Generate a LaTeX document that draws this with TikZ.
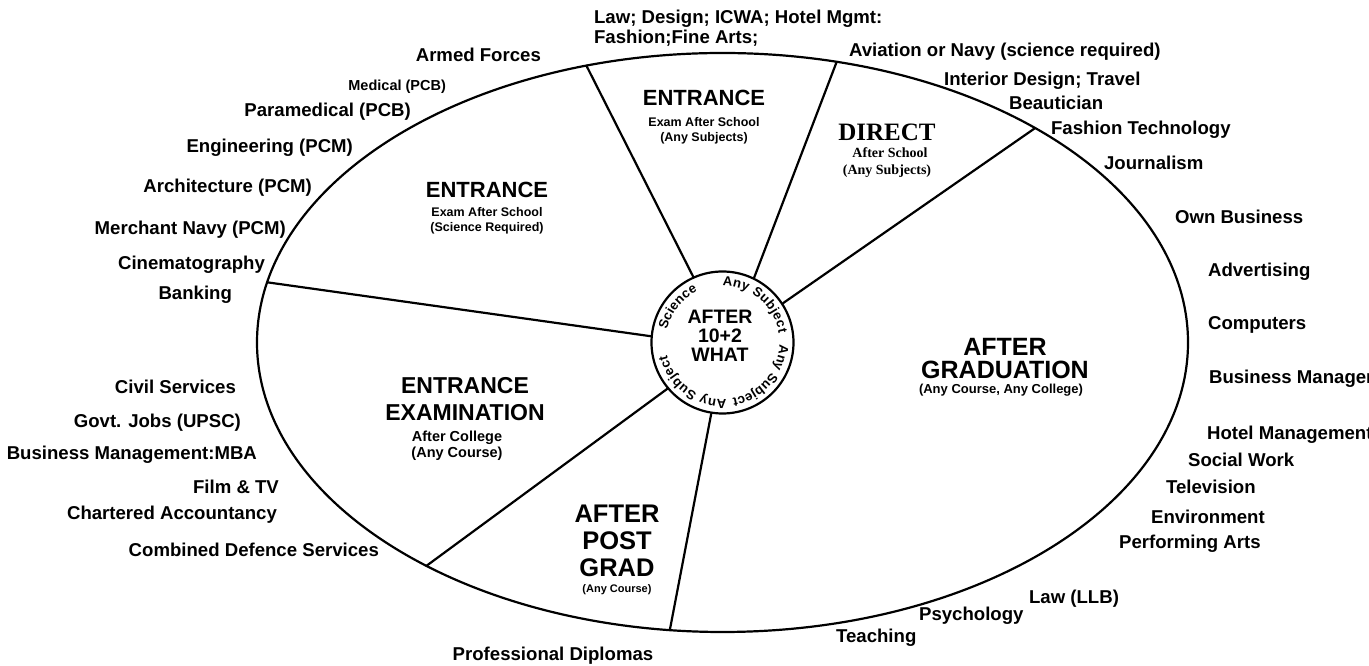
\documentclass[tikz,border=0pt]{standalone}
\usepackage{fontspec}
\setmainfont{Liberation Sans}
\newfontfamily\serifbold{Liberation Serif}
\usetikzlibrary{calc,decorations.text}

\begin{document}
\begin{tikzpicture}[x=1pt,y=1pt,
  line width=2.2pt, line cap=round, line join=round,
  item/.style={font=\bfseries\fontsize{18.6}{18.6}\selectfont, inner sep=0pt, text height=13.3pt, text depth=0pt},
  smallitem/.style={font=\bfseries\fontsize{14.5}{14.5}\selectfont, inner sep=0pt, text height=10.4pt, text depth=0pt},
  title/.style={font=\bfseries\fontsize{22}{22}\selectfont, inner sep=0pt, text height=15.8pt, text depth=0pt},
  bigtitle/.style={font=\bfseries\fontsize{25.5}{25.5}\selectfont, inner sep=0pt, text height=18.3pt, text depth=0pt},
  sub/.style={font=\bfseries\fontsize{12.5}{12.5}\selectfont, inner sep=0pt, text height=9pt, text depth=0pt},
  serifsub/.style={font=\serifbold\bfseries\fontsize{14}{14}\selectfont, inner sep=0pt, text height=9.5pt, text depth=0pt},
  ringtext/.style={decorate, decoration={text along path, text align={fit to path},
      text={|\bfseries\fontsize{13.2}{13.2}\selectfont|#1}}}
]
\useasboundingbox (0,0) rectangle (1369,666);
\clip (0,0) rectangle (1369,666);

% ---- wheel: outer ellipse, hub and spokes ----
\coordinate (c) at (722.5,323.5);
\draw (c) ellipse [x radius=465.5, y radius=289.5];
\node[circle, draw, minimum size=142pt, inner sep=0pt] (hub) at (c) {};

\coordinate (e1) at ($(c)+(168:465.5 and 289.5)$);
\coordinate (e2) at ($(c)+(107:465.5 and 289.5)$);
\coordinate (e3) at ($(c)+(75.8:465.5 and 289.5)$);
\coordinate (e4) at ($(c)+(47.8:465.5 and 289.5)$);
\coordinate (e5) at ($(c)+(230.5:465.5 and 289.5)$);
\coordinate (e6) at ($(c)+(263.5:465.5 and 289.5)$);

\draw (hub.175.5) -- (e1);
\draw (hub.114) -- (e2);
\draw (hub.64.6) -- (e3);
\draw (hub.33.4) -- (e4);
\draw (hub.220) -- (e5);
\draw (hub.261.8) -- (e6);

% ---- hub text ----
\node[font=\bfseries\fontsize{19.5}{19}\selectfont, align=center, inner sep=0pt] (what) at (720,330) {AFTER\\10+2\\WHAT};
\path[ringtext=Science] ($(c)+(167:57)$) arc[start angle=167, end angle=116, radius=57];
\path[ringtext=Any Subject] ($(c)+(90:57)$) arc[start angle=90, end angle=9, radius=57];
\path[ringtext=Any Subject] ($(c)+(-2:57)$) arc[start angle=-2, end angle=-80, radius=57];
\path[ringtext=Any Subject] ($(c)+(-86:57)$) arc[start angle=-86, end angle=-167, radius=57];

% ---- sector titles ----
\node[title] (s1a) at (487,476) {ENTRANCE};
\node[sub] (s1b) at (487,454) {Exam After School};
\node[sub] (s1c) at (487,439) {(Science Required)};

\node[title] (s2a) at (704,568) {ENTRANCE};
\node[sub] (s2b) at (704,544) {Exam After School};
\node[sub] (s2c) at (704,529) {(Any Subjects)};

\node[font=\serifbold\bfseries\fontsize{25}{25}\selectfont, inner sep=0pt, text height=16.5pt, text depth=0pt] (s3a) at (887,534) {DIRECT};
\node[serifsub] (s3b) at (890,513) {After School};
\node[serifsub] (s3c) at (887,496) {(Any Subjects)};

\node[title, font=\bfseries\fontsize{23}{23}\selectfont] (s4a) at (465,280) {ENTRANCE};
\node[title, font=\bfseries\fontsize{23}{23}\selectfont] (s4b) at (465,253) {EXAMINATION};
\node[sub, font=\bfseries\fontsize{14.5}{14.5}\selectfont] (s4c) at (457,229) {After College};
\node[sub, font=\bfseries\fontsize{14.5}{14.5}\selectfont] (s4d) at (457,213) {(Any Course)};

\node[bigtitle] (s5a) at (617,153) {AFTER};
\node[bigtitle] (s5b) at (617,126) {POST};
\node[bigtitle] (s5c) at (617,99) {GRAD};
\node[sub, font=\bfseries\fontsize{11}{11}\selectfont] (s5d) at (617,78) {(Any Course)};

\node[bigtitle, font=\bfseries\fontsize{25}{25}\selectfont] (s6a) at (1005,320) {AFTER};
\node[bigtitle, font=\bfseries\fontsize{25}{25}\selectfont] (s6b) at (1005,297) {GRADUATION};
\node[sub, font=\bfseries\fontsize{13}{13}\selectfont] (s6c) at (1001,277) {(Any Course, Any College)};

% ---- careers on the left ----
\node[item, anchor=east] (l1) at (542,611) {Armed Forces};
\node[smallitem, anchor=east] (l2) at (447,581) {Medical (PCB)};
\node[item, anchor=east] (l3) at (412,556) {Paramedical (PCB)};
\node[item, anchor=east] (l4) at (354,520) {Engineering (PCM)};
\node[item, anchor=east] (l5) at (313,480) {Architecture (PCM)};
\node[item, anchor=east] (l6) at (287,438) {Merchant Navy (PCM)};
\node[item, anchor=east] (l7) at (266,403) {Cinematography};
\node[item, anchor=east] (l8) at (233,373) {Banking};
\node[item, anchor=east] (l9) at (237,279) {Civil Services};
\node[item, anchor=east] (l10) at (242,245) {Govt. Jobs (UPSC)};
\node[item, anchor=east] (l11) at (258,213) {Business Management:MBA};
\node[item, anchor=east] (l12) at (280,179) {Film \& TV};
\node[item, anchor=east] (l13) at (278,153) {Chartered Accountancy};
\node[item, anchor=east] (l14) at (380,116) {Combined Defence Services};
\node[item] (l15) at (553,12) {Professional Diplomas};

% ---- careers on the right ----
\node[item, anchor=west] (r1) at (593,649) {Law; Design; ICWA; Hotel Mgmt:};
\node[item, anchor=west] (r2) at (593,629) {Fashion;Fine Arts;};
\node[item, anchor=west] (r3) at (848,616) {Aviation or Navy (science required)};
\node[item, anchor=west] (r4) at (943,587) {Interior Design; Travel};
\node[item, anchor=west] (r5) at (1008,563) {Beautician};
\node[item, anchor=west] (r6) at (1050,538) {Fashion Technology};
\node[item, anchor=west] (r7) at (1103,503) {Journalism};
\node[item, anchor=west] (r8) at (1174,449) {Own Business};
\node[item, anchor=west] (r9) at (1207,396) {Advertising};
\node[item, anchor=west] (r10) at (1207,343) {Computers};
\node[item, anchor=west] (r11) at (1208,289) {Business Management};
\node[item, anchor=west] (r12) at (1206,233) {Hotel Management};
\node[item, anchor=west] (r13) at (1187,206) {Social Work};
\node[item, anchor=west] (r14) at (1165,179) {Television};
\node[item, anchor=west] (r15) at (1150,149) {Environment};
\node[item, anchor=west] (r16) at (1118,124) {Performing Arts};
\node[item, anchor=west] (r17) at (1028,69) {Law (LLB)};
\node[item, anchor=west] (r18) at (918,52) {Psychology};
\node[item, anchor=west] (r19) at (835,30) {Teaching};
\end{tikzpicture}
\end{document}
